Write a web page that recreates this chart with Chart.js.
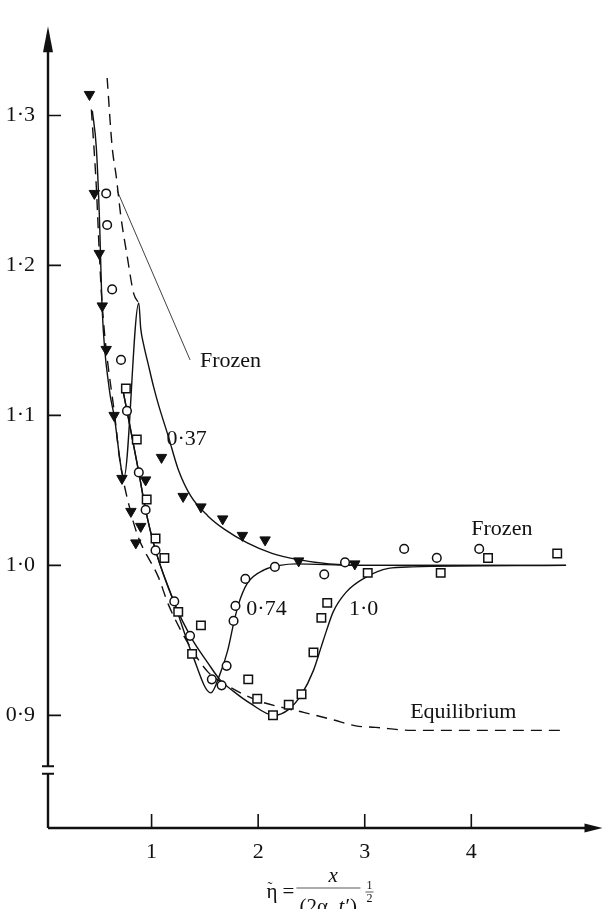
<!DOCTYPE html>
<html>
<head>
<meta charset="utf-8">
<script src="https://cdn.jsdelivr.net/npm/chart.js@4.4.1/dist/chart.umd.min.js"></script>
<style>
  html, body { margin: 0; padding: 0; background: #fff; }
  #wrap { width: 610px; height: 909px; }
</style>
</head>
<body>
<div id="wrap"><canvas id="profile-chart"></canvas></div>
<script>
// axis ticks
var etaTicks = [1, 2, 3, 4];
var valueTicks = [0.9, 1.0, 1.1, 1.2, 1.3];
var axisBreak = [0.861, 0.866];

// equilibrium curve (dashed)
var equilibriumX = [0.435, 0.481, 0.509, 0.537, 0.667, 0.694, 0.806, 0.880, 1.065, 1.157, 1.343, 1.528, 1.685, 1.991, 2.241, 2.426, 2.704, 2.917, 3.102, 3.444, 4.870];
var equilibriumY = [1.304, 1.253, 1.209, 1.173, 1.092, 1.074, 1.035, 1.018, 0.992, 0.974, 0.948, 0.929, 0.921, 0.910, 0.905, 0.902, 0.897, 0.893, 0.892, 0.890, 0.890];

// frozen curve near the inlet (dashed)
var frozenX = [0.583, 0.630, 0.667, 0.713, 0.769, 0.833, 0.880];
var frozenY = [1.325, 1.279, 1.260, 1.232, 1.207, 1.181, 1.175];

// computed profiles
var curve037X = [0.444, 0.481, 0.509, 0.537, 0.602, 0.648, 0.741, 0.880, 0.898, 0.926, 0.972, 1.019, 1.065, 1.157, 1.250, 1.370, 1.528, 1.685, 1.898, 2.130, 2.361, 2.667, 2.981, 4.889];
var curve037Y = [1.303, 1.279, 1.235, 1.170, 1.118, 1.100, 1.059, 1.175, 1.158, 1.147, 1.133, 1.119, 1.107, 1.086, 1.064, 1.046, 1.033, 1.024, 1.015, 1.008, 1.004, 1.001, 1.000, 1.000];

var curve074X = [0.722, 0.769, 0.880, 0.944, 1.037, 1.213, 1.380, 1.556, 1.639, 1.713, 1.769, 1.815, 1.898, 2.056, 2.204, 2.361, 2.900, 4.889];
var curve074Y = [1.120, 1.103, 1.062, 1.037, 1.010, 0.975, 0.941, 0.915, 0.927, 0.943, 0.961, 0.974, 0.988, 0.997, 1.000, 1.001, 1.000, 1.000];

var curve100X = [0.722, 0.769, 0.880, 0.944, 1.037, 1.213, 1.370, 1.528, 1.639, 1.769, 1.926, 2.148, 2.287, 2.407, 2.519, 2.593, 2.639, 2.704, 2.824, 3.009, 3.222, 3.444, 4.889];
var curve100Y = [1.120, 1.103, 1.062, 1.037, 1.010, 0.975, 0.952, 0.935, 0.924, 0.916, 0.908, 0.900, 0.904, 0.914, 0.930, 0.946, 0.956, 0.969, 0.982, 0.992, 0.998, 0.999, 1.000];

// measurements: triangles 0.37, circles 0.74, squares 1.0
var tri037X = [0.417, 0.463, 0.509, 0.537, 0.574, 0.648, 0.722, 0.806, 0.852, 0.898, 0.944, 1.093, 1.296, 1.463, 1.667, 1.852, 2.065, 2.380, 2.907];
var tri037Y = [1.314, 1.248, 1.208, 1.173, 1.144, 1.100, 1.058, 1.036, 1.015, 1.026, 1.057, 1.072, 1.046, 1.039, 1.031, 1.020, 1.017, 1.003, 1.001];

var circ074X = [0.574, 0.583, 0.630, 0.713, 0.769, 0.880, 0.944, 1.037, 1.213, 1.361, 1.565, 1.657, 1.704, 1.769, 1.787, 1.880, 2.157, 2.620, 2.815, 3.370, 3.676, 4.074];
var circ074Y = [1.248, 1.227, 1.184, 1.137, 1.103, 1.062, 1.037, 1.010, 0.976, 0.953, 0.924, 0.920, 0.933, 0.963, 0.973, 0.991, 0.999, 0.994, 1.002, 1.011, 1.005, 1.011];

var sq100X = [0.759, 0.861, 0.954, 1.037, 1.120, 1.250, 1.463, 1.380, 1.907, 1.991, 2.139, 2.287, 2.407, 2.519, 2.593, 2.648, 3.028, 3.713, 4.157, 4.806];
var sq100Y = [1.118, 1.084, 1.044, 1.018, 1.005, 0.969, 0.960, 0.941, 0.924, 0.911, 0.900, 0.907, 0.914, 0.942, 0.965, 0.975, 0.995, 0.995, 1.005, 1.008];

// curve labels: text, x, y (data units, left edge / vertical middle)
var noteText = ['Frozen', '0·37', '0·74', '1·0', 'Frozen', 'Equilibrium'];
var noteX = [1.454, 1.139, 1.889, 2.852, 4.000, 3.426];
var noteY = [1.136, 1.084, 0.971, 0.971, 1.024, 0.902];
// leader from the upper "Frozen" label to its curve
var leaderX = [0.676, 1.361];
var leaderY = [1.250, 1.137];

const ink = '#111';
const serif = '"Liberation Serif", "DejaVu Serif", serif';

function pairs(xs, ys) {
    return xs.map((x, i) => ({ x: x, y: ys[i] }));
}

function lineSet(xs, ys, dash) {
    return {
        data: pairs(xs, ys),
        showLine: true,
        borderColor: ink,
        borderWidth: 1.4,
        borderDash: dash || [],
        pointRadius: 0,
        cubicInterpolationMode: 'monotone',
        fill: false
    };
}

const frameAndNotes = {
    id: 'frameAndNotes',
    afterDraw(chart) {
        const ctx = chart.ctx;
        const xs = chart.scales.x;
        const ys = chart.scales.y;
        const a = chart.chartArea;
        const x0 = a.left;
        const y0 = a.bottom;

        ctx.save();
        ctx.strokeStyle = ink;
        ctx.fillStyle = ink;

        // axes, with a break in the value axis
        const bLo = ys.getPixelForValue(axisBreak[0]);
        const bHi = ys.getPixelForValue(axisBreak[1]);
        ctx.lineWidth = 2.4;
        ctx.beginPath();
        ctx.moveTo(x0, y0);
        ctx.lineTo(x0, bLo);
        ctx.moveTo(x0, bHi);
        ctx.lineTo(x0, a.top + 20);
        ctx.moveTo(x0, y0);
        ctx.lineTo(a.right - 12, y0);
        ctx.stroke();
        ctx.lineWidth = 2;
        ctx.beginPath();
        ctx.moveTo(x0 - 6, bLo);
        ctx.lineTo(x0 + 6, bLo);
        ctx.moveTo(x0 - 6, bHi);
        ctx.lineTo(x0 + 6, bHi);
        ctx.stroke();

        // arrow heads
        ctx.beginPath();
        ctx.moveTo(x0, a.top);
        ctx.lineTo(x0 - 5, a.top + 26);
        ctx.lineTo(x0 + 5, a.top + 26);
        ctx.closePath();
        ctx.fill();
        ctx.beginPath();
        ctx.moveTo(a.right, y0);
        ctx.lineTo(a.right - 18, y0 - 4.5);
        ctx.lineTo(a.right - 18, y0 + 4.5);
        ctx.closePath();
        ctx.fill();

        // inward tick marks
        ctx.lineWidth = 1.6;
        ctx.beginPath();
        ys.ticks.forEach(t => {
            const py = ys.getPixelForValue(t.value);
            ctx.moveTo(x0, py);
            ctx.lineTo(x0 + 13, py);
        });
        xs.ticks.forEach(t => {
            const px = xs.getPixelForValue(t.value);
            ctx.moveTo(px, y0);
            ctx.lineTo(px, y0 - 14);
        });
        ctx.stroke();

        // leader line
        ctx.lineWidth = 0.8;
        ctx.beginPath();
        ctx.moveTo(xs.getPixelForValue(leaderX[0]), ys.getPixelForValue(leaderY[0]));
        ctx.lineTo(xs.getPixelForValue(leaderX[1]), ys.getPixelForValue(leaderY[1]));
        ctx.stroke();

        // curve labels
        ctx.font = '22px ' + serif;
        ctx.textAlign = 'left';
        ctx.textBaseline = 'middle';
        noteText.forEach((txt, i) => {
            ctx.fillText(txt, xs.getPixelForValue(noteX[i]), ys.getPixelForValue(noteY[i]));
        });

        // axis title: eta = x / (2 alpha0 t')^(1/2)
        const cx = xs.getPixelForValue(2.5);
        ctx.textBaseline = 'alphabetic';
        ctx.font = '21px ' + serif;
        ctx.fillText('\u03b7', cx - 45, 898);
        ctx.font = '15px ' + serif;
        ctx.fillText('\u02dc', cx - 44, 892);
        ctx.font = '21px ' + serif;
        ctx.fillText('=', cx - 29, 898);
        ctx.font = 'italic 21px ' + serif;
        ctx.fillText('x', cx + 17, 882);
        ctx.lineWidth = 0.7;
        ctx.beginPath();
        ctx.moveTo(cx - 15, 888);
        ctx.lineTo(cx + 49, 888);
        ctx.stroke();
        ctx.font = '21px ' + serif;
        ctx.fillText('(2\u03b1', cx - 12, 913);
        ctx.font = '13px ' + serif;
        ctx.fillText('0', cx + 19, 917);
        ctx.font = 'italic 21px ' + serif;
        ctx.fillText('t', cx + 27, 913);
        ctx.font = '21px ' + serif;
        ctx.fillText('\u2032)', cx + 34, 913);
        ctx.font = '12px ' + serif;
        ctx.textAlign = 'center';
        ctx.fillText('1', cx + 58, 889);
        ctx.fillText('2', cx + 58, 902);
        ctx.beginPath();
        ctx.moveTo(cx + 54, 892);
        ctx.lineTo(cx + 62, 892);
        ctx.stroke();

        ctx.restore();
    }
};

const profileChart = document.getElementById('profile-chart');

new Chart(profileChart, {
    type: 'scatter',
    data: {
        datasets: [
            {
                data: pairs(tri037X, tri037Y),
                pointStyle: 'triangle',
                rotation: 180,
                pointRadius: 6,
                backgroundColor: ink,
                borderColor: ink,
                borderWidth: 1
            },
            {
                data: pairs(circ074X, circ074Y),
                pointStyle: 'circle',
                pointRadius: 4.3,
                backgroundColor: '#fff',
                borderColor: ink,
                borderWidth: 1.5
            },
            {
                data: pairs(sq100X, sq100Y),
                pointStyle: 'rect',
                pointRadius: 6,
                backgroundColor: '#fff',
                borderColor: ink,
                borderWidth: 1.5
            },
            lineSet(curve037X, curve037Y),
            lineSet(curve074X, curve074Y),
            lineSet(curve100X, curve100Y),
            lineSet(equilibriumX, equilibriumY, [11, 7]),
            lineSet(frozenX, frozenY, [11, 7])
        ]
    },
    options: {
        responsive: true,
        maintainAspectRatio: false,
        animation: false,
        layout: {
            padding: { top: 10, right: 0, bottom: 0, left: 0 }
        },
        plugins: {
            legend: { display: false },
            tooltip: { enabled: false }
        },
        scales: {
            x: {
                type: 'linear',
                min: 0.028,
                max: 5.231,
                afterBuildTicks: s => { s.ticks = etaTicks.map(v => ({ value: v })); },
                afterFit: s => { s.height = 81; },
                grid: { display: false, drawTicks: false },
                border: { display: false },
                ticks: {
                    color: ink,
                    font: { family: serif, size: 22 },
                    padding: 11,
                    maxRotation: 0,
                    autoSkip: false,
                    callback: v => String(v)
                }
            },
            y: {
                type: 'linear',
                min: 0.8249,
                max: 1.3595,
                afterBuildTicks: s => { s.ticks = valueTicks.map(v => ({ value: v })); },
                afterFit: s => { s.width = 48; },
                grid: { display: false, drawTicks: false },
                border: { display: false },
                ticks: {
                    color: ink,
                    font: { family: serif, size: 22 },
                    padding: 13,
                    autoSkip: false,
                    callback: v => v.toFixed(1).replace('.', '\u00b7')
                }
            }
        }
    },
    plugins: [frameAndNotes]
});
</script>
</body>
</html>
